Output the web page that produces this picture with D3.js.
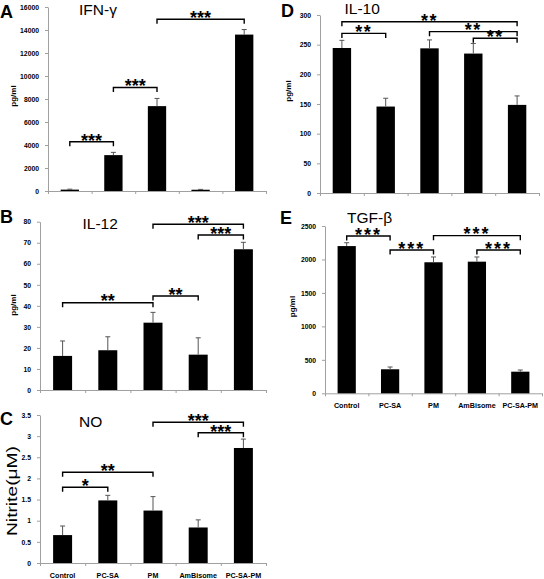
<!DOCTYPE html>
<html>
<head>
<meta charset="utf-8">
<script src="https://cdn.jsdelivr.net/npm/d3@7"></script>
<style>
  html, body { margin: 0; padding: 0; background: #fff; }
  svg { display: block; font-family: "Liberation Sans", Arial, sans-serif; }
</style>
</head>
<body>
<svg id="chart" width="544" height="579"></svg>
<script>
// ---------- data ----------
const categories = ["Control", "PC-SA", "PM", "AmBisome", "PC-SA-PM"];

const ifnValues = [120, 3120, 7380, 110, 13600];
const ifnErrors = [40, 240, 670, 30, 440];
const ifnTicks = [0, 2000, 4000, 6000, 8000, 10000, 12000, 14000, 16000];
const ifnBrackets = [
  { from: "Control", to: "PC-SA", label: "***", level: 4280 },
  { from: "PC-SA", to: "PM", label: "***", level: 9000 },
  { from: "PM", to: "PC-SA-PM", label: "***", level: 14930 }
];

const il12Values = [16.2, 18.9, 32.0, 16.8, 66.9];
const il12Errors = [7.1, 6.4, 4.9, 8.0, 3.3];
const il12Ticks = [0, 10, 20, 30, 40, 50, 60, 70, 80];
const il12Brackets = [
  { from: "Control", to: "PM", label: "**", level: 41.5 },
  { from: "PM", to: "AmBisome", label: "**", level: 44.7 },
  { from: "PM", to: "PC-SA-PM", label: "***", level: 78.8 },
  { from: "AmBisome", to: "PC-SA-PM", label: "***", level: 73.7 }
];

const noValues = [0.66, 1.48, 1.24, 0.84, 2.72];
const noErrors = [0.215, 0.12, 0.33, 0.18, 0.21];
const noTicks = [0, 0.5, 1, 1.5, 2, 2.5, 3, 3.5];
const noBrackets = [
  { from: "Control", to: "PC-SA", label: "*", level: 1.79 },
  { from: "Control", to: "PM", label: "**", level: 2.145 },
  { from: "PM", to: "PC-SA-PM", label: "***", level: 3.33 },
  { from: "AmBisome", to: "PC-SA-PM", label: "***", level: 3.08 }
];

const il10Values = [244.4, 145.7, 243.8, 235.0, 148.5];
const il10Errors = [12.9, 14.0, 14.2, 17.0, 15.1];
const il10Ticks = [0, 50, 100, 150, 200, 250, 300];
const il10Brackets = [
  { from: "Control", to: "PC-SA", label: "**", level: 269 },
  { from: "Control", to: "PC-SA-PM", label: "**", level: 288.7 },
  { from: "PM", to: "PC-SA-PM", label: "**", level: 271.9 },
  { from: "AmBisome", to: "PC-SA-PM", label: "**", level: 260.7 }
];

const tgfValues = [2200, 359, 1958, 1967, 323];
const tgfErrors = [50, 34, 79, 70, 25];
const tgfTicks = [0, 500, 1000, 1500, 2000, 2500];
const tgfBrackets = [
  { from: "Control", to: "PC-SA", label: "***", level: 2351 },
  { from: "PC-SA", to: "PM", label: "***", level: 2142 },
  { from: "PM", to: "PC-SA-PM", label: "***", level: 2356 },
  { from: "AmBisome", to: "PC-SA-PM", label: "***", level: 2142 }
];

// ---------- layout ----------
const panels = [
  { letter: "A", title: "IFN-γ", values: ifnValues, errors: ifnErrors, ticks: ifnTicks, brackets: ifnBrackets,
    max: 16000, x0: 48, x1: 266, top: 7, bottom: 191, letterX: 0, letterY: 18, titleX: 79, titleY: 15,
    yLabel: "pg/ml", yLabelX: 15.5, yLabelY: 96, big: false, xLabels: false, starSpacing: 0 },
  { letter: "B", title: "IL-12", values: il12Values, errors: il12Errors, ticks: il12Ticks, brackets: il12Brackets,
    max: 80, x0: 40, x1: 266, top: 221.7, bottom: 390, letterX: 0, letterY: 223, titleX: 82.5, titleY: 229,
    yLabel: "pg/ml", yLabelX: 15.5, yLabelY: 305, big: false, xLabels: false, starSpacing: 0 },
  { letter: "C", title: "NO", values: noValues, errors: noErrors, ticks: noTicks, brackets: noBrackets,
    max: 3.5, x0: 40, x1: 266, top: 415, bottom: 563, letterX: 0, letterY: 425, titleX: 79, titleY: 427,
    yLabel: "Nitrite(μM)", yLabelX: 17, yLabelY: 491, big: true, xLabels: true, starSpacing: 0 },
  { letter: "D", title: "IL-10", values: il10Values, errors: il10Errors, ticks: il10Ticks, brackets: il10Brackets,
    max: 300, x0: 320, x1: 539, top: 15, bottom: 193, letterX: 281, letterY: 17, titleX: 344.5, titleY: 14,
    yLabel: "pg/ml", yLabelX: 290.5, yLabelY: 91, big: false, xLabels: false, starSpacing: 1.5 },
  { letter: "E", title: "TGF-β", values: tgfValues, errors: tgfErrors, ticks: tgfTicks, brackets: tgfBrackets,
    max: 2500, x0: 325, x1: 542, top: 226, bottom: 393.3, letterX: 280, letterY: 223.5, titleX: 347, titleY: 223,
    yLabel: "pg/ml", yLabelX: 294.5, yLabelY: 306.5, big: false, xLabels: true, starSpacing: 2 }
];

const svg = d3.select("#chart");
const fmt = d3.format("~g");

panels.forEach(p => {
  const g = svg.append("g");
  const x = d3.scaleBand().domain(categories).range([p.x0, p.x1]).paddingInner(0).paddingOuter(0);
  const xi = d3.scaleLinear().domain([0, categories.length]).range([p.x0, p.x1]);
  const y = d3.scaleLinear().domain([0, p.max]).range([p.bottom, p.top]);
  const barW = x.bandwidth() * 0.42;

  // y axis
  const ya = g.append("g").attr("transform", `translate(${p.x0},0)`)
    .call(d3.axisLeft(y).tickValues(p.ticks).tickSize(3).tickSizeOuter(0).tickPadding(6)
      .tickFormat(d => fmt(d)));
  ya.select(".domain").attr("stroke", "#a0a0a0");
  ya.selectAll(".tick line").attr("stroke", "#a0a0a0");
  ya.selectAll(".tick text").attr("font-size", 6.8).attr("font-weight", "bold")
    .attr("font-family", "'Liberation Sans', Arial, sans-serif").attr("fill", "#000");

  // x axis (category boundary ticks)
  const xa = g.append("g").attr("transform", `translate(0,${p.bottom})`)
    .call(d3.axisBottom(xi).tickValues(d3.range(categories.length + 1)).tickSize(3).tickSizeOuter(0).tickFormat(""));
  xa.select(".domain").attr("stroke", "#a0a0a0");
  xa.selectAll(".tick line").attr("stroke", "#a0a0a0");

  // bars
  g.selectAll("rect.bar").data(p.values).join("rect")
    .attr("class", "bar")
    .attr("x", (d, i) => x(categories[i]) + (x.bandwidth() - barW) / 2)
    .attr("y", d => y(d))
    .attr("width", barW)
    .attr("height", d => y(0) - y(d))
    .attr("fill", "#000");

  // error bars (upper whisker)
  const eb = g.selectAll("g.err").data(p.values).join("g").attr("class", "err");
  eb.append("line")
    .attr("x1", (d, i) => x(categories[i]) + x.bandwidth() / 2)
    .attr("x2", (d, i) => x(categories[i]) + x.bandwidth() / 2)
    .attr("y1", d => y(d))
    .attr("y2", (d, i) => y(d + p.errors[i]))
    .attr("stroke", "#555").attr("stroke-width", 1);
  eb.append("line")
    .attr("x1", (d, i) => x(categories[i]) + x.bandwidth() / 2 - 2.5)
    .attr("x2", (d, i) => x(categories[i]) + x.bandwidth() / 2 + 2.5)
    .attr("y1", (d, i) => y(d + p.errors[i]))
    .attr("y2", (d, i) => y(d + p.errors[i]))
    .attr("stroke", "#555").attr("stroke-width", 1);

  // significance brackets
  p.brackets.forEach(b => {
    const xa1 = x(b.from) + x.bandwidth() / 2;
    const xa2 = x(b.to) + x.bandwidth() / 2;
    const yy = y(b.level);
    g.append("path")
      .attr("d", `M${xa1},${yy + 4.5}V${yy}H${xa2}V${yy + 4.5}`)
      .attr("fill", "none").attr("stroke", "#000").attr("stroke-width", 1.4);
    g.append("text")
      .attr("x", (xa1 + xa2) / 2)
      .attr("y", yy + 4.8)
      .attr("text-anchor", "middle")
      .attr("font-size", 18).attr("font-weight", "bold")
      .attr("letter-spacing", p.starSpacing)
      .text(b.label);
  });

  // x labels
  if (p.xLabels) {
    g.selectAll("text.xl").data(categories).join("text")
      .attr("class", "xl")
      .attr("x", d => x(d) + x.bandwidth() / 2)
      .attr("y", p.bottom + 15)
      .attr("text-anchor", "middle")
      .attr("font-size", 7.2).attr("font-weight", "bold")
      .text(d => d);
  }

  // panel letter
  g.append("text").attr("x", p.letterX).attr("y", p.letterY)
    .attr("font-size", 18).attr("font-weight", "bold").text(p.letter);

  // title
  g.append("text").attr("x", p.titleX).attr("y", p.titleY)
    .attr("font-size", 15.5).text(p.title);

  // y label
  const yl = g.append("text")
    .attr("transform", `translate(${p.yLabelX},${p.yLabelY}) rotate(-90)`)
    .attr("text-anchor", "middle")
    .text(p.yLabel);
  if (p.big) {
    yl.attr("font-size", 14).attr("textLength", 90).attr("lengthAdjust", "spacingAndGlyphs");
  } else {
    yl.attr("font-size", 8).attr("font-weight", "bold");
  }
});
</script>
</body>
</html>
